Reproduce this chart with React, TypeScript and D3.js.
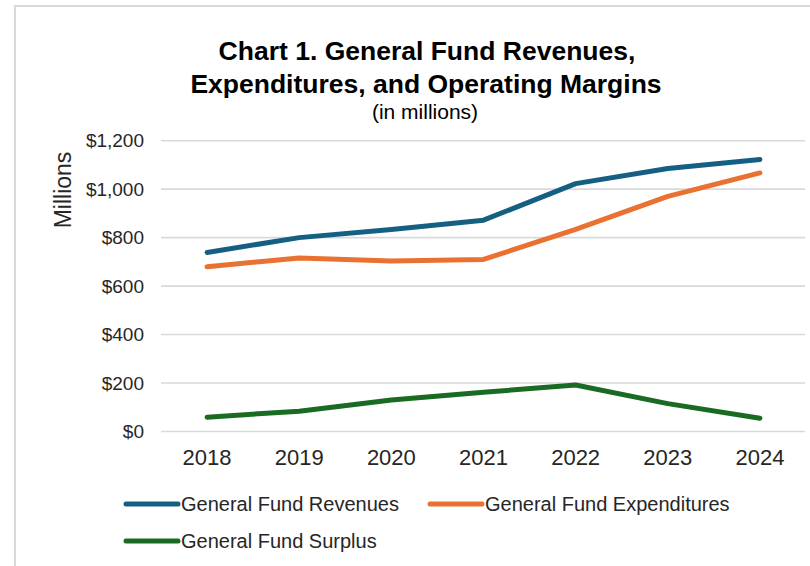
import React from "react";
import * as d3 from "d3";

const years = ["2018", "2019", "2020", "2021", "2022", "2023", "2024"];
const revenues = [739, 800, 834, 872, 1023, 1085, 1122];
const expenditures = [680, 716, 704, 710, 834, 970, 1067];
const surplus = [59, 84, 130, 162, 192, 115, 55];
const yTicks = [0, 200, 400, 600, 800, 1000, 1200];

const seriesNames = ["General Fund Revenues", "General Fund Expenditures", "General Fund Surplus"];
const seriesColors = ["#156082", "#E97132", "#196B24"];

const FONT = "'Liberation Sans', Arial, sans-serif";

export default function App() {
  const W = 810;
  const H = 566;
  const x = d3.scaleBand<string>().domain(years).range([161, 806]);
  const y = d3.scaleLinear().domain([0, 1200]).range([431.5, 140.7]);
  const line = d3
    .line<number>()
    .x((_, i) => (x(years[i]) as number) + x.bandwidth() / 2)
    .y((d) => y(d));

  const series = [revenues, expenditures, surplus];
  const fmt = (v: number) => "$" + d3.format(",")(v);

  const legendItems = [
    { x: 126, y: 504 },
    { x: 430, y: 504 },
    { x: 126, y: 541 },
  ];

  return (
    <div style={{ position: "absolute", left: 0, top: 0 }}>
      <svg width={W} height={H} style={{ display: "block", fontFamily: FONT }}>
        <rect x={0} y={0} width={W} height={H} fill="#fff" />
        <rect x={15} y={6} width={W + 20} height={H + 20} fill="#fff" stroke="#d9d9d9" strokeWidth={2} />
        <text x={427} y={60} textAnchor="middle" fontSize={26.5} fontWeight="bold" fill="#000">
          Chart 1. General Fund Revenues,
        </text>
        <text x={426} y={93} textAnchor="middle" fontSize={26.5} fontWeight="bold" fill="#000">
          Expenditures, and Operating Margins
        </text>
        <text x={425} y={119} textAnchor="middle" fontSize={21} fill="#000">
          (in millions)
        </text>
        {yTicks.map((t) => (
          <g key={t}>
            <line x1={161} x2={805} y1={y(t)} y2={y(t)} stroke="#d9d9d9" strokeWidth={1.6} />
            <text x={144} y={y(t) + 6.5} textAnchor="end" fontSize={19} fill="#262626">
              {fmt(t)}
            </text>
          </g>
        ))}
        <text
          transform={`translate(71,190) rotate(-90)`}
          textAnchor="middle"
          fontSize={23}
          fill="#262626"
        >
          Millions
        </text>
        {years.map((yr) => (
          <text
            key={yr}
            x={(x(yr) as number) + x.bandwidth() / 2}
            y={465}
            textAnchor="middle"
            fontSize={22}
            fill="#262626"
          >
            {yr}
          </text>
        ))}
        {series.map((s, i) => (
          <path
            key={i}
            d={line(s) || ""}
            fill="none"
            stroke={seriesColors[i]}
            strokeWidth={5}
            strokeLinecap="round"
            strokeLinejoin="round"
          />
        ))}
        {legendItems.map((it, i) => (
          <g key={i}>
            <line
              x1={it.x}
              x2={it.x + 52}
              y1={it.y}
              y2={it.y}
              stroke={seriesColors[i]}
              strokeWidth={5}
              strokeLinecap="round"
            />
            <text x={it.x + 55} y={it.y + 7} fontSize={20} fill="#262626">
              {seriesNames[i]}
            </text>
          </g>
        ))}
      </svg>
    </div>
  );
}
